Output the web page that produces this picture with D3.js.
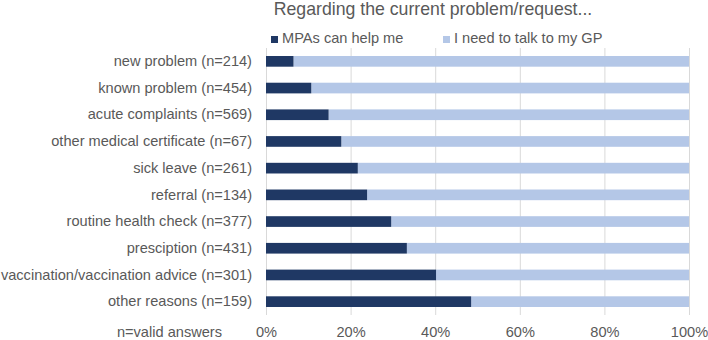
<!DOCTYPE html>
<html>
<head>
<meta charset="utf-8">
<script src="https://cdn.jsdelivr.net/npm/d3@7"></script>
<style>
  body { margin: 0; background: #fff; }
  svg { display: block; font-family: "Liberation Sans", Arial, sans-serif; }
  .axis path, .axis line { display: none; }
  .axis text { fill: #595959; }
</style>
</head>
<body>
<div id="chart"></div>
<script>
// data
const categories = [
  "new problem (n=214)",
  "known problem (n=454)",
  "acute complaints (n=569)",
  "other medical certificate (n=67)",
  "sick leave (n=261)",
  "referral (n=134)",
  "routine health check (n=377)",
  "presciption (n=431)",
  "vaccination/vaccination advice (n=301)",
  "other reasons (n=159)"
];
const mpaShare = [6.5, 10.7, 14.8, 17.8, 21.7, 23.9, 29.6, 33.3, 40.2, 48.5];
const seriesNames = ["MPAs can help me", "I need to talk to my GP"];
const xTicks = [0, 20, 40, 60, 80, 100];

const colors = ["#1f3864", "#b4c7e7"];
const textColor = "#595959";
const fontSize = 14.6;

//size
const width = 708, height = 340;
const margin = { top: 48, right: 19, bottom: 25, left: 266 };

const svg = d3.select("#chart").append("svg")
  .attr("width", width)
  .attr("height", height);

//scale
const xScale = d3.scaleLinear()
  .domain([0, 100])
  .range([margin.left, width - margin.right]);

const yScale = d3.scaleBand()
  .domain(categories)
  .range([margin.top, height - margin.bottom])
  .paddingInner(0.6)
  .paddingOuter(0.3);

//grid
svg.append("g")
  .selectAll("line")
  .data(xTicks)
  .join("line")
  .attr("x1", (d) => xScale(d) + 0.5)
  .attr("x2", (d) => xScale(d) + 0.5)
  .attr("y1", margin.top)
  .attr("y2", height - margin.bottom)
  .attr("stroke", "#d9d9d9")
  .attr("stroke-width", 1);

//mark
const rows = categories.map((c, i) => ({ cat: c, mpa: mpaShare[i], gp: 100 - mpaShare[i] }));

svg.append("g")
  .selectAll("rect.gp")
  .data(rows)
  .join("rect")
  .attr("class", "gp")
  .attr("x", (d) => xScale(d.mpa))
  .attr("width", (d) => xScale(100) - xScale(d.mpa))
  .attr("y", (d) => yScale(d.cat))
  .attr("height", yScale.bandwidth())
  .attr("fill", colors[1]);

svg.append("g")
  .selectAll("rect.mpa")
  .data(rows)
  .join("rect")
  .attr("class", "mpa")
  .attr("x", xScale(0))
  .attr("width", (d) => xScale(d.mpa) - xScale(0))
  .attr("y", (d) => yScale(d.cat))
  .attr("height", yScale.bandwidth())
  .attr("fill", colors[0]);

//y-axis
svg.append("g")
  .attr("class", "axis y-axis")
  .attr("transform", `translate(${margin.left - 14},0)`)
  .call(d3.axisLeft(yScale).tickSize(0).tickPadding(0))
  .selectAll("text")
  .attr("font-size", fontSize);

//x-axis
svg.append("g")
  .attr("class", "axis x-axis")
  .attr("transform", `translate(0,${height - margin.bottom})`)
  .call(d3.axisBottom(xScale).tickValues(xTicks).tickFormat((d) => d + "%").tickSize(0).tickPadding(12))
  .selectAll("text")
  .attr("font-size", fontSize);

svg.selectAll(".axis .domain").remove();

svg.append("text")
  .attr("x", 222)
  .attr("y", 337)
  .attr("text-anchor", "end")
  .attr("font-size", fontSize)
  .attr("fill", textColor)
  .text("n=valid answers");

//title
svg.append("text")
  .attr("x", 433)
  .attr("y", 15)
  .attr("text-anchor", "middle")
  .attr("font-size", 17.7)
  .attr("fill", textColor)
  .text("Regarding the current problem/request...");

//legend
const legendX = [271, 443];
const legend = svg.append("g")
  .selectAll("g")
  .data(seriesNames)
  .join("g")
  .attr("transform", (d, i) => `translate(${legendX[i]},0)`);

legend.append("rect")
  .attr("y", 36)
  .attr("width", 7)
  .attr("height", 7)
  .attr("fill", (d, i) => colors[i]);

legend.append("text")
  .attr("x", 11)
  .attr("y", 43)
  .attr("font-size", fontSize)
  .attr("fill", textColor)
  .text((d) => d);
</script>
</body>
</html>
